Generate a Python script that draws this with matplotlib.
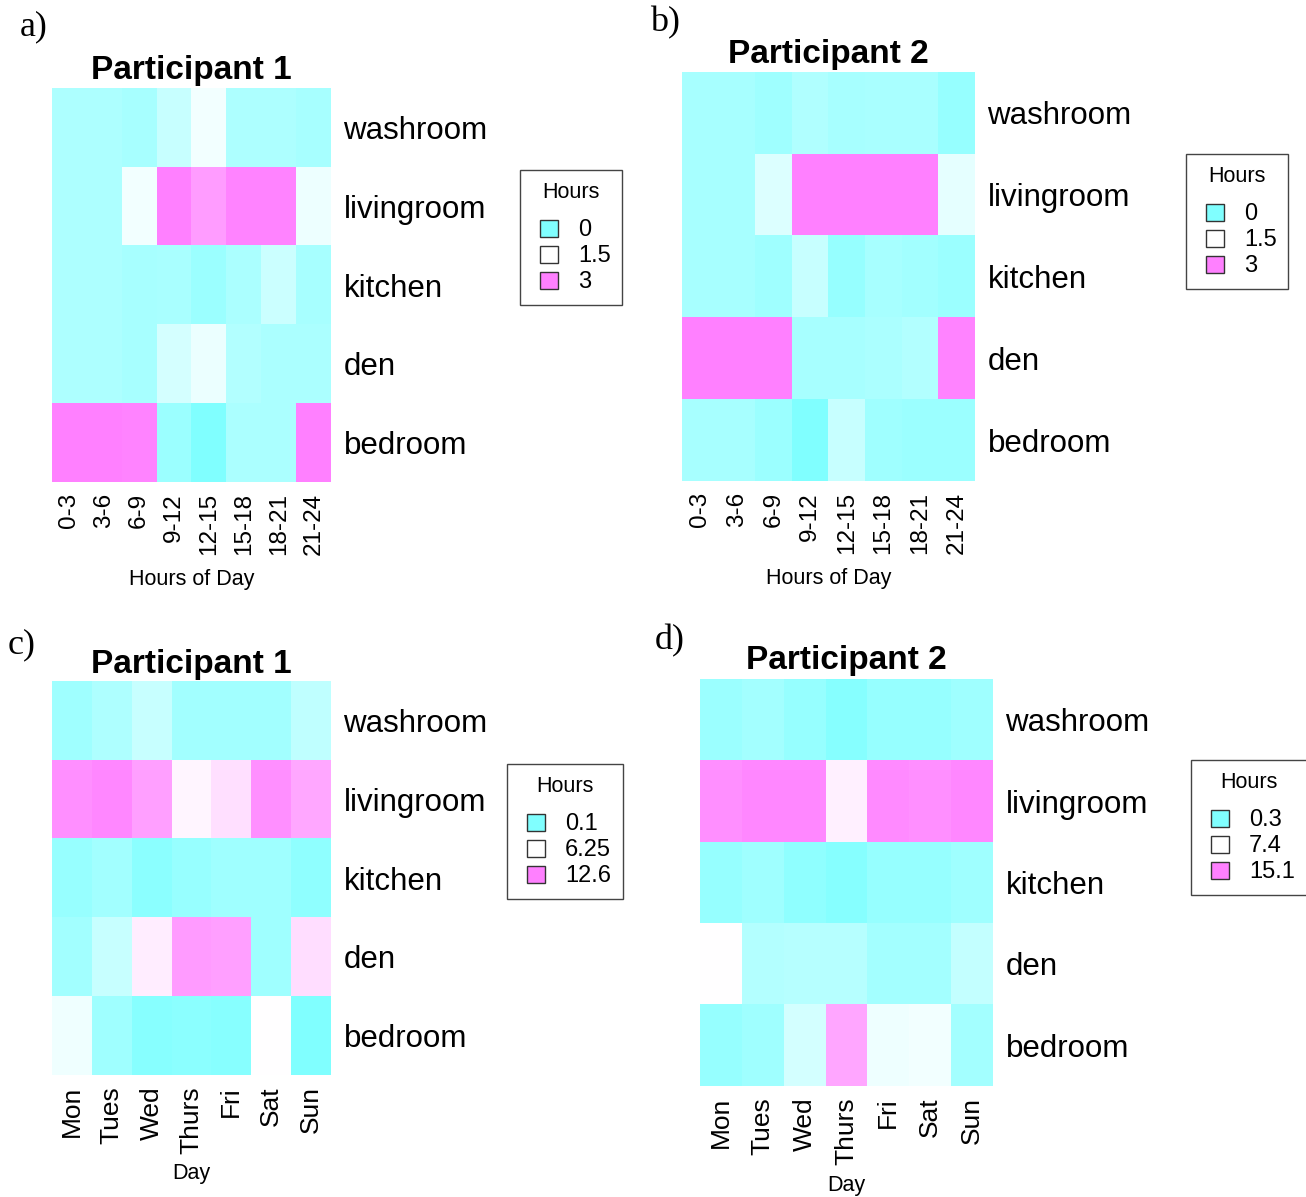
import numpy as np
import matplotlib
matplotlib.use("Agg")
import matplotlib.pyplot as plt
from matplotlib.colors import LinearSegmentedColormap, TwoSlopeNorm
from matplotlib.patches import Patch, Rectangle
from matplotlib.legend_handler import HandlerPatch

plt.rcParams['font.family'] = ['Liberation Sans', 'DejaVu Sans']

W, H = 1306, 1197

rooms = ['washroom', 'livingroom', 'kitchen', 'den', 'bedroom']
hour_bins = ['0-3', '3-6', '6-9', '9-12', '12-15', '15-18', '18-21', '21-24']
days = ['Mon', 'Tues', 'Wed', 'Thurs', 'Fri', 'Sat', 'Sun']

# average hours per room, participant 1, by time of day
p1_hours = [
    [0.55, 0.55, 0.47, 0.85, 1.35, 0.55, 0.55, 0.47],
    [0.55, 0.55, 1.35, 3.00, 2.65, 2.95, 2.95, 1.30],
    [0.55, 0.55, 0.47, 0.50, 0.33, 0.52, 0.90, 0.47],
    [0.55, 0.55, 0.47, 1.00, 1.27, 0.60, 0.52, 0.52],
    [3.00, 3.00, 2.95, 0.33, 0.00, 0.52, 0.52, 3.00],
]
# participant 2, by time of day
p2_hours = [
    [0.47, 0.47, 0.38, 0.58, 0.47, 0.50, 0.50, 0.28],
    [0.47, 0.47, 1.10, 3.00, 3.00, 3.00, 3.00, 1.20],
    [0.47, 0.47, 0.38, 0.85, 0.28, 0.47, 0.42, 0.33],
    [3.00, 3.00, 2.98, 0.47, 0.47, 0.52, 0.60, 2.95],
    [0.47, 0.47, 0.33, 0.00, 0.85, 0.38, 0.33, 0.33],
]
# participant 1, by day of week
p1_days = [
    [1.64, 2.40, 3.60, 1.80, 1.80, 1.80, 3.20],
    [11.8, 12.2, 11.0, 6.70, 7.80, 11.8, 10.6],
    [1.27, 1.80, 0.70, 1.27, 1.64, 1.64, 0.90],
    [1.80, 3.60, 7.10, 11.2, 11.0, 1.64, 7.90],
    [5.50, 1.64, 0.50, 0.70, 0.50, 6.25, 0.10],
]
# participant 2, by day of week
p2_days = [
    [1.86, 2.30, 1.60, 0.70, 1.60, 1.60, 2.10],
    [14.1, 14.6, 14.6, 8.30, 14.4, 14.1, 14.6],
    [1.60, 2.10, 1.20, 0.70, 1.60, 1.60, 2.10],
    [7.40, 3.20, 3.40, 3.40, 2.30, 2.30, 4.10],
    [1.60, 2.10, 5.00, 12.7, 6.50, 6.70, 2.30],
]

scale_a = [0, 1.5, 3]
scale_b = [0, 1.5, 3]
scale_c = [0.1, 6.25, 12.6]
scale_d = [0.3, 7.4, 15.1]
labels_a = ['0', '1.5', '3']
labels_b = ['0', '1.5', '3']
labels_c = ['0.1', '6.25', '12.6']
labels_d = ['0.3', '7.4', '15.1']

cmap = LinearSegmentedColormap.from_list('cwm', ['#80FFFF', '#FFFFFF', '#FF80FF'])


def fx(x):
    return x / W


def fy(y):
    return 1 - y / H


def square_key(legend, orig_handle, xdescent, ydescent, width, height, fontsize):
    # square swatch pushed to the right end of the handle slot
    return Rectangle((-xdescent + width - height, -ydescent), height, height)


def heat_panel(fig, box, data, cols, scale, leg_labels, leg_xy, title,
               title_y, xlabel, xlabel_y, tag, tag_xy, tick_size):
    x0, y0, x1, y1 = box
    ax = fig.add_axes([fx(x0), fy(y1), (x1 - x0) / W, (y1 - y0) / H])
    norm = TwoSlopeNorm(vmin=scale[0], vcenter=scale[1], vmax=scale[2])
    ax.imshow(np.array(data), cmap=cmap, norm=norm, aspect='auto',
              interpolation='nearest')
    for s in ax.spines.values():
        s.set_visible(False)
    ax.set_xticks(range(len(cols)))
    ax.set_xticklabels(cols, rotation=90, fontsize=tick_size)
    ax.set_yticks(range(len(rooms)))
    ax.set_yticklabels(rooms, fontsize=22.5)
    ax.yaxis.tick_right()
    ax.tick_params(axis='both', length=0)
    ax.tick_params(axis='y', pad=9)
    ax.tick_params(axis='x', pad=8)

    cx = (x0 + x1) / 2
    fig.text(fx(cx), fy(title_y), title, fontsize=24, fontweight='bold',
             ha='center', va='center')
    fig.text(fx(cx), fy(xlabel_y), xlabel, fontsize=15.5,
             ha='center', va='center')
    fig.text(fx(tag_xy[0]), fy(tag_xy[1]), tag, fontsize=26,
             family='Liberation Serif', ha='left', va='center')

    handles = [Patch(facecolor=cmap(norm(v)), edgecolor='#333333', lw=1.0)
               for v in scale]
    leg = fig.legend(handles, leg_labels, title='Hours', loc='upper left',
                     bbox_to_anchor=(fx(leg_xy[0]), fy(leg_xy[1])),
                     fontsize=17, title_fontsize=15.5, fancybox=False,
                     edgecolor='#444444', framealpha=1,
                     handler_map={Patch: HandlerPatch(patch_func=square_key)},
                     handlelength=1.1, handleheight=0.75, handletextpad=0.85,
                     labelspacing=0.17, borderpad=0.5, borderaxespad=0)
    # wider gap between the legend title and the colour keys
    leg._legend_box.sep = 12
    leg.get_frame().set_linewidth(1.0)
    return ax


fig = plt.figure(figsize=(W / 100, H / 100), dpi=100)

heat_panel(fig, (52, 88, 331, 482), p1_hours, hour_bins, scale_a, labels_a,
           (520, 170), 'Participant 1', 71, 'Hours of Day', 580, 'a)', (20, 27), 17.5)
heat_panel(fig, (682, 72, 975, 481), p2_hours, hour_bins, scale_b, labels_b,
           (1186, 154), 'Participant 2', 54, 'Hours of Day', 579, 'b)', (650, 23), 17.5)
heat_panel(fig, (52, 681, 331, 1075), p1_days, days, scale_c, labels_c,
           (507, 764), 'Participant 1', 664, 'Day', 1173, 'c)', (8, 645), 19)
heat_panel(fig, (700, 679, 993, 1086), p2_days, days, scale_d, labels_d,
           (1191, 760), 'Participant 2', 660, 'Day', 1185, 'd)', (655, 641), 19)

fig.savefig('out.png', dpi=100)
